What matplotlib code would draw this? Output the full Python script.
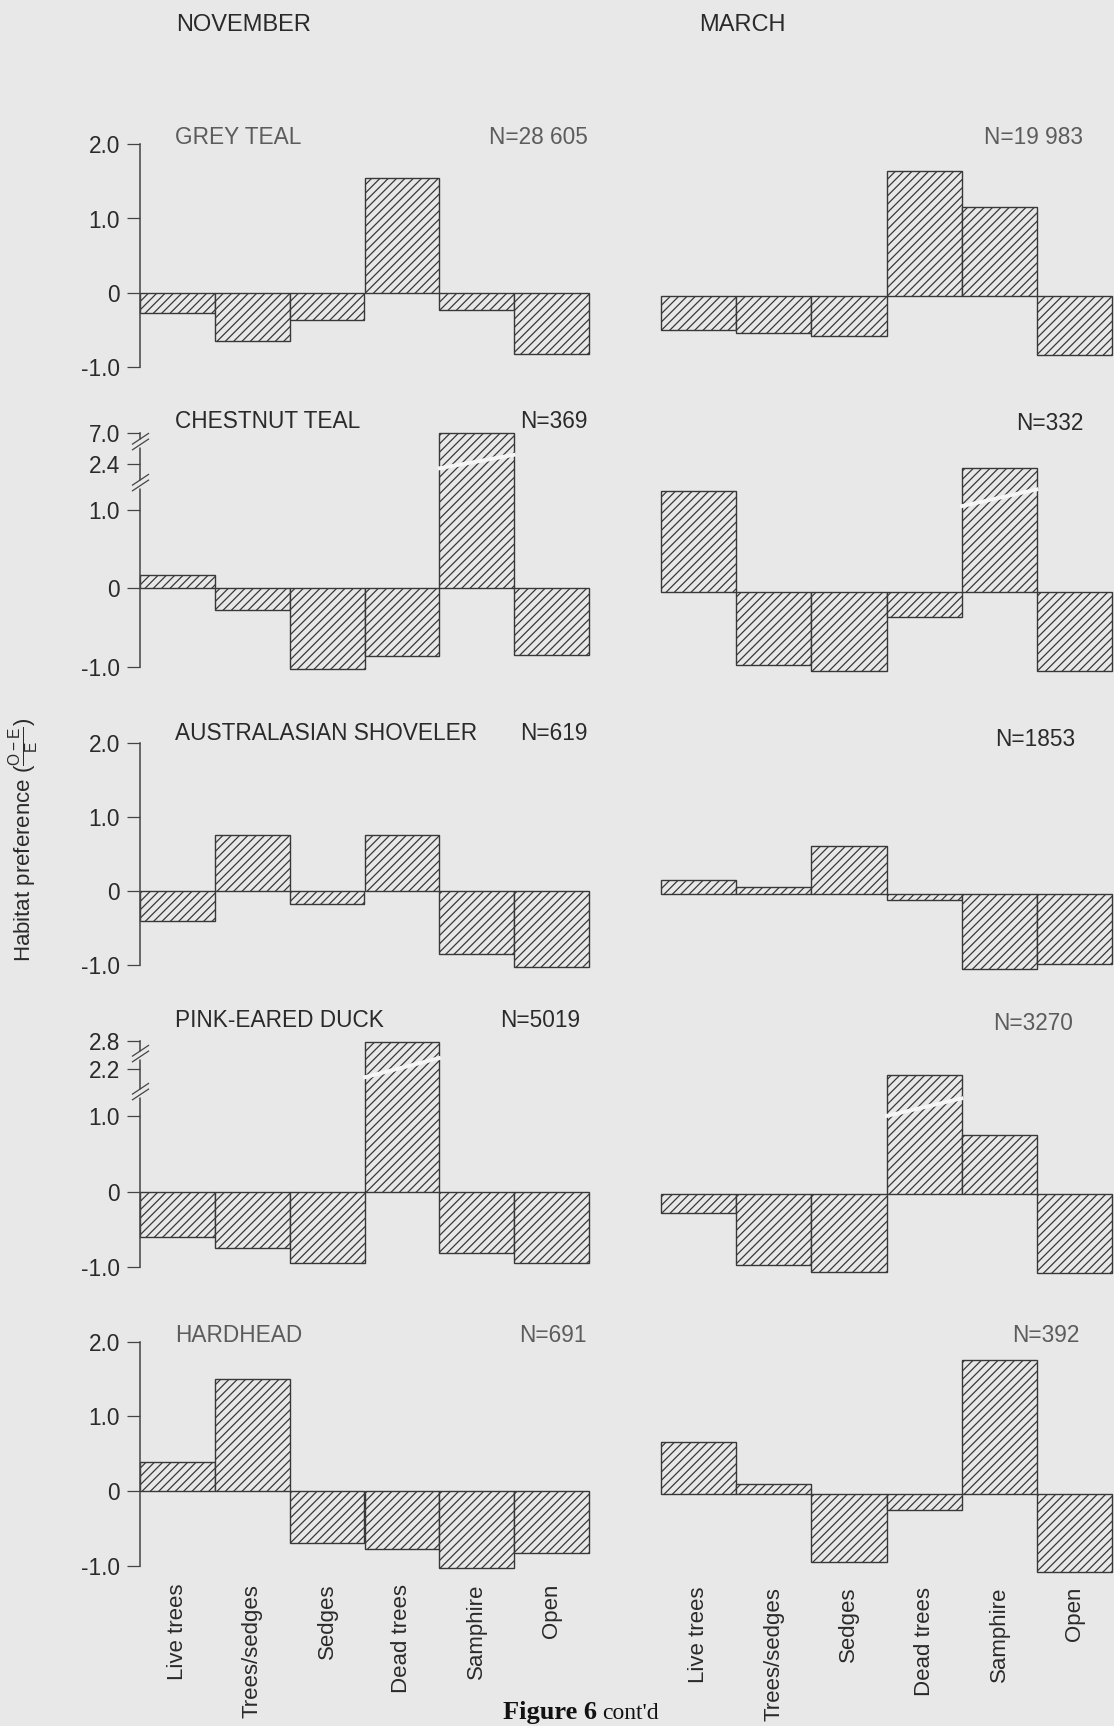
import numpy as np
import matplotlib.pyplot as plt
from matplotlib.path import Path

plt.rcParams['font.family'] = ['Liberation Sans', 'DejaVu Sans']
plt.rcParams['mathtext.fontset'] = 'custom'
plt.rcParams['mathtext.rm'] = 'Liberation Sans'
plt.rcParams['mathtext.it'] = 'Liberation Sans'
plt.rcParams['hatch.linewidth'] = 0.9

# ---- data ----
habitats = ["Live trees", "Trees/sedges", "Sedges", "Dead trees", "Samphire", "Open"]
months = ["NOVEMBER", "MARCH"]
species = ["GREY TEAL", "CHESTNUT TEAL", "AUSTRALASIAN SHOVELER", "PINK-EARED DUCK", "HARDHEAD"]

grey_teal_nov = [-0.27, -0.65, -0.36, 1.54, -0.23, -0.82]
grey_teal_mar = [-0.46, -0.50, -0.54, 1.68, 1.19, -0.79]
chestnut_teal_nov = [0.17, -0.28, -1.03, -0.86, 6.95, -0.85]
chestnut_teal_mar = [1.71, -0.93, -1.00, -0.31, 2.40, -1.00]
shoveler_nov = [-0.40, 0.76, -0.18, 0.75, -0.85, -1.03]
shoveler_mar = [0.19, 0.10, 0.65, -0.08, -1.01, -0.95]
pink_eared_nov = [-0.60, -0.75, -0.95, 2.78, -0.82, -0.95]
pink_eared_mar = [-0.25, -0.94, -1.03, 2.13, 0.78, -1.05]
hardhead_nov = [0.39, 1.50, -0.70, -0.78, -1.03, -0.83]
hardhead_mar = [0.70, 0.14, -0.91, -0.22, 1.80, -1.04]

n_nov = ["N=28 605", "N=369", "N=619", "N=5019", "N=691"]
n_mar = ["N=19 983", "N=332", "N=1853", "N=3270", "N=392"]

ticks_plain = [2.0, 1.0, 0, -1.0]
ticks_chestnut = [7.0, 2.4, 1.0, 0, -1.0]
ticks_pink = [2.8, 2.2, 1.0, 0, -1.0]

nov = [grey_teal_nov, chestnut_teal_nov, shoveler_nov, pink_eared_nov, hardhead_nov]
mar = [grey_teal_mar, chestnut_teal_mar, shoveler_mar, pink_eared_mar, hardhead_mar]

# broken axis: data knots -> drawn height (in units of the linear part)
knots = {1: ([-3, 1, 2.4, 7.0, 9.0], [-3, 1, 1.591, 1.991, 2.165]),
         3: ([-3, 1, 2.2, 2.8, 3.6], [-3, 1, 1.623, 2.0, 2.5])}
# white break band across tall bars: (row, col, bar, y left, y right)
bar_breaks = [(1, 0, 4, 2.27, 3.84), (1, 1, 4, 1.24, 1.77),
              (3, 0, 3, 1.99, 2.45), (3, 1, 3, 1.06, 1.53)]
# break marks on the axis
axis_breaks = {1: [5.57, 1.80], 3: [2.50, 1.61]}

# ---- layout (pixels) ----
W, H = 1114, 1726
bg = '#e8e8e8'
ink = '#2a2a2a'
soft = '#5c5c5c'
zero_left = [293, 592, 891, 1191.7, 1491]
zero_right = [296, 596, 894, 1194, 1494]
ppu = [74.5, 75, 74, 75.3, 74.6]
col_x = [(140, 589), (661, 1112)]
title_y = [137, 422, 733, 1020, 1335]
nleft_y = [138, 422, 733, 1020, 1335]
nright_y = [138, 423, 739, 1023, 1335]
nleft_x = [588, 588, 588, 580, 587]
nright_x = [1083, 1083, 1075, 1073, 1079]
umin, umax = -1.15, 2.3
fs = 16.3

fig = plt.figure(figsize=(W / 100, H / 100), dpi=100, facecolor=bg)


def fx(px):
    return px / W


def fy(py):
    return 1 - py / H


x = np.arange(len(habitats))
for r in range(5):
    if r in knots:
        kd, ku = knots[r]
        fwd = lambda y, kd=kd, ku=ku: np.interp(y, kd, ku)
        inv = lambda u, kd=kd, ku=ku: np.interp(u, ku, kd)
    else:
        fwd = inv = None
    for c in range(2):
        z = zero_left[r] if c == 0 else zero_right[r]
        l, rgt = col_x[c]
        bot = z - umin * ppu[r]
        top = z - umax * ppu[r]
        ax = fig.add_axes([fx(l), fy(bot), fx(rgt - l), (bot - top) / H])
        ax.set_facecolor('none')
        if fwd is not None:
            ax.set_yscale('function', functions=(fwd, inv))
            ax.set_ylim(inv(umin), inv(umax))
        else:
            ax.set_ylim(umin, umax)
        ax.set_xlim(-0.5, 5.5)
        vals = nov[r] if c == 0 else mar[r]
        ax.bar(x, vals, width=1.0, color=bg, edgecolor='#383838',
               linewidth=1.0, hatch='////', clip_on=False, zorder=2)
        for (br, bc, bi, y0, y1) in bar_breaks:
            if br == r and bc == c:
                ax.plot([bi - 0.52, bi + 0.52], [y0, y1], color='#f6f6f6',
                         lw=2.8, solid_capstyle='butt', zorder=3, clip_on=False)
        for s in ['top', 'right', 'bottom']:
            ax.spines[s].set_visible(False)
        if c == 0:
            tk = ticks_chestnut if r == 1 else ticks_pink if r == 3 else ticks_plain
            ax.spines['left'].set_bounds(-1.0, tk[0])
            ax.spines['left'].set_color('#444444')
            ax.spines['left'].set_linewidth(1.1)
            ax.set_yticks(tk)
            ax.set_yticklabels(['0' if t == 0 else f'{t:.1f}' for t in tk])
            ax.tick_params(axis='y', length=9.5, width=0.9, pad=5,
                           color='#444444', labelsize=fs, labelcolor=ink)
            if r in axis_breaks:
                gap = Path([(0, -4), (0, 4)], [Path.MOVETO, Path.LINETO])
                marks = Path([(-9, -7), (9, 5), (-9, -1), (9, 11)],
                             [Path.MOVETO, Path.LINETO, Path.MOVETO, Path.LINETO])
                for yb in axis_breaks[r]:
                    ax.plot([-0.5], [yb], marker=gap, markersize=6, mew=2.5,
                            color=bg, clip_on=False, zorder=4)
                    ax.plot([-0.5], [yb], marker=marks, markersize=15, mew=0.9,
                            color='#444444', clip_on=False, zorder=5)
        else:
            ax.spines['left'].set_visible(False)
            ax.set_yticks([])
        if r == 4:
            ax.set_xticks(x)
            ax.set_xticklabels(habitats, rotation=90, fontsize=16, color=ink)
            ax.tick_params(axis='x', length=0, pad=5)
        else:
            ax.set_xticks([])

    tcol = soft if r in (0, 4) else ink
    fig.text(fx(175), fy(title_y[r]), species[r], fontsize=fs, color=tcol,
             ha='left', va='center')
    fig.text(fx(nleft_x[r]), fy(nleft_y[r]), n_nov[r], fontsize=fs,
             color=soft if r in (0, 4) else ink, ha='right', va='center')
    fig.text(fx(nright_x[r]), fy(nright_y[r]), n_mar[r], fontsize=fs,
             color=soft if r in (0, 3, 4) else ink, ha='right', va='center')

fig.text(fx(244), fy(25), months[0], fontsize=17, color=ink, ha='center', va='center')
fig.text(fx(742), fy(25), months[1], fontsize=17, color=ink, ha='center', va='center')
fig.text(fx(24), fy(840), r'Habitat preference ($\frac{\mathrm{O-E}}{\mathrm{E}}$)',
         fontsize=16, color=ink, rotation=90, ha='center', va='center')
fig.text(fx(597), fy(1719), 'Figure 6', fontsize=19, fontweight='bold',
         family='Liberation Serif', color='#111111', ha='right', va='baseline')
fig.text(fx(602), fy(1719), "cont'd", fontsize=17, family='Liberation Serif',
         color='#111111', ha='left', va='baseline')

fig.savefig('out.png', dpi=100, facecolor=bg)
